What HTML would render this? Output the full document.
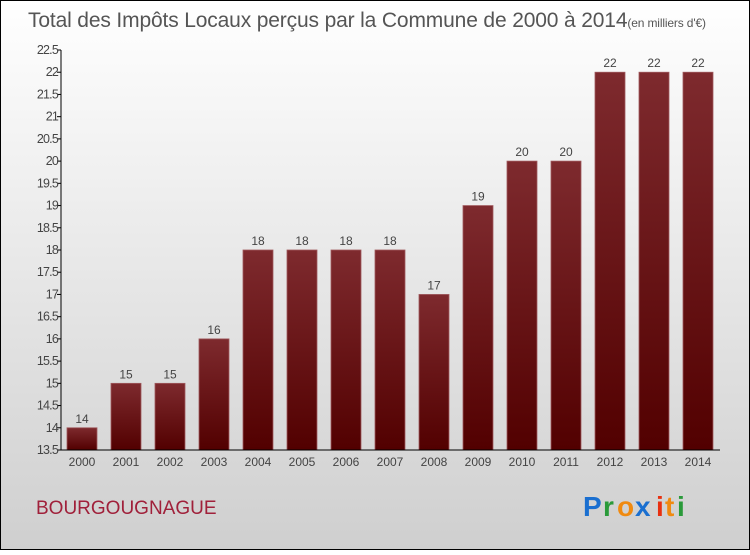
<!DOCTYPE html>
<html><head><meta charset="utf-8"><style>
body{margin:0;width:750px;height:550px;overflow:hidden;font-family:"Liberation Sans",sans-serif}
</style></head><body>
<svg width="750" height="550" xmlns="http://www.w3.org/2000/svg">
<defs>
<linearGradient id="bg" x1="0" y1="0" x2="0" y2="1"><stop offset="0" stop-color="#ffffff"/><stop offset="1" stop-color="#cfcfcf"/></linearGradient>
<linearGradient id="bar" x1="0" y1="0" x2="0" y2="1"><stop offset="0" stop-color="#7e2a2e"/><stop offset="1" stop-color="#520000"/></linearGradient>
</defs>
<rect x="0.5" y="0.5" width="749" height="549" fill="url(#bg)" stroke="#000"/>
<text x="28" y="27" font-size="21" fill="#555" textLength="678">Total des Impôts Locaux perçus par la Commune de 2000 à 2014<tspan font-size="12">(en milliers d'€)</tspan></text>
<g id="plot"></g>
<text x="36" y="514" font-size="19" fill="#a0203a">BOURGOUGNAGUE</text>
<g font-size="28" font-weight="bold">
<text x="583" y="516" fill="#1a6fd0">P</text><text x="603" y="516" fill="#2a9a3a">r</text><text x="617" y="516" fill="#f08a10">o</text><text x="635" y="516" fill="#1a6fd0">x</text><text x="656" y="516" fill="#e83010">i</text><text x="665" y="516" fill="#f08a10">t</text><text x="677" y="516" fill="#2a9a3a">i</text>
</g>
</svg>
<script>
const categories=["2000","2001","2002","2003","2004","2005","2006","2007","2008","2009","2010","2011","2012","2013","2014"];
const values=[14,15,15,16,18,18,18,18,17,19,20,20,22,22,22];
const labels=["14","15","15","16","18","18","18","18","17","19","20","20","22","22","22"];
const yTicks=[13.5,14,14.5,15,15.5,16,16.5,17,17.5,18,18.5,19,19.5,20,20.5,21,21.5,22,22.5];
const NS="http://www.w3.org/2000/svg",g=document.getElementById('plot');
const x0=61,x1=720,yMin=13.5,yMax=22.5,plotTop=50,plotBot=450;
const y=v=>plotBot-(v-yMin)/(yMax-yMin)*(plotBot-plotTop);
const step=44;
const xc=i=>82+step*i;
function mk(t,a,txt){const e=document.createElementNS(NS,t);for(const k in a)e.setAttribute(k,a[k]);if(txt!=null)e.textContent=txt;g.appendChild(e);return e;}
values.forEach((v,i)=>{
const r=mk('rect',{x:xc(i)-15,y:y(v),width:30,height:plotBot-y(v),fill:'url(#bar)',stroke:'#a05a5e','stroke-width':0.8});


const l=mk('text',{x:xc(i),y:y(v)-5,'text-anchor':'middle','font-size':12,fill:'#444'},labels[i]);


const c=mk('text',{x:xc(i),y:466,'text-anchor':'middle','font-size':12,fill:'#444'},categories[i]);


});
yTicks.forEach(t=>{
const tl=mk('line',{x1:x0-4,x2:x0,y1:y(t),y2:y(t),stroke:'#000'});


const tx=mk('text',{x:x0-3,y:y(t)+4,'text-anchor':'end','font-size':12.5,fill:'#444','letter-spacing':'-0.8'},String(t));


});
const ya=mk('line',{x1:x0,x2:x0,y1:plotTop,y2:plotBot,stroke:'#000'});


const xa=mk('line',{x1:x0,x2:x1,y1:plotBot,y2:plotBot,stroke:'#000'});


</script>
</body></html>
